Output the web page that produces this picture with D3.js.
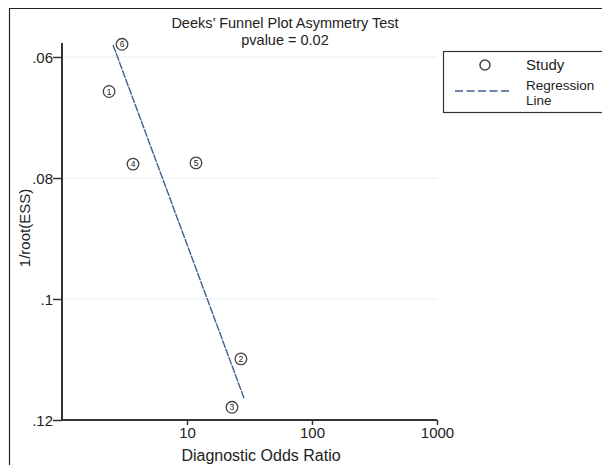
<!DOCTYPE html>
<html>
<head>
<meta charset="utf-8">
<script src="https://cdn.jsdelivr.net/npm/d3@7"></script>
<style>
  body { margin: 0; background: #fff; }
  svg text { font-family: "Liberation Sans", Arial, sans-serif; fill: #222; }
</style>
</head>
<body>
<svg id="chart" width="602" height="465"></svg>
<script>
// study points
var studyIds = ["1", "2", "3", "4", "5", "6"]
var studyDor = [2.38, 27.0, 22.9, 3.70, 11.8, 3.02]
var studyEss = [0.0657, 0.1099, 0.1179, 0.0777, 0.0775, 0.0579]

// regression line end points (DOR, 1/root(ESS))
var regDor = [2.56, 28.6]
var regEss = [0.0580, 0.1164]

var xTicks = [10, 100, 1000]
var yTicks = [0.06, 0.08, 0.1, 0.12]
var yTickLabels = [".06", ".08", ".1", ".12"]

var svg = d3.select("#chart")

// outer frame
svg.append("path")
    .attr("d", "M9.5,465 V8.5 H602")
    .attr("fill", "none")
    .attr("stroke", "#222")
    .attr("stroke-width", 1.2)

var x = d3.scaleLog().domain([1, 1000]).range([62, 437])
var y = d3.scaleLinear().domain([0.06, 0.12]).range([57, 420])

// grid lines
svg.append("g").selectAll("line")
    .data(yTicks.slice(0, 3))
    .enter().append("line")
    .attr("x1", 63).attr("x2", 437)
    .attr("y1", function(d) { return y(d) }).attr("y2", function(d) { return y(d) })
    .attr("stroke", "#e6f0f1")
    .attr("stroke-width", 1)

// y axis
var yAxis = svg.append("g")
    .attr("transform", "translate(62,0)")
    .call(d3.axisLeft(y).tickValues(yTicks).tickSize(9)
        .tickFormat(function(d, i) { return yTickLabels[i] }))
yAxis.select(".domain").attr("d", "M0," + 43 + "V" + y(0.12)).attr("stroke-width", 2).attr("stroke", "#333")
yAxis.selectAll(".tick line").attr("stroke", "#333").attr("stroke-width", 1.5)
yAxis.selectAll(".tick text").attr("font-size", 15).attr("x", -9).attr("dy", "0.36em")
    .attr("font-family", "Liberation Sans, Arial, sans-serif").attr("fill", "#222")

// x axis
var xAxis = svg.append("g")
    .attr("transform", "translate(0," + y(0.12) + ")")
    .call(d3.axisBottom(x).tickValues(xTicks).tickSize(5).tickFormat(d3.format("d")))
xAxis.select(".domain").attr("d", "M" + x(1) + ",0H" + x(1000)).attr("stroke-width", 2).attr("stroke", "#333")
xAxis.selectAll(".tick line").attr("stroke", "#333").attr("stroke-width", 1.5)
xAxis.selectAll(".tick text").attr("font-size", 15).attr("y", 7)
    .attr("font-family", "Liberation Sans, Arial, sans-serif").attr("fill", "#222")

// regression line
svg.append("line")
    .attr("x1", x(regDor[0])).attr("y1", y(regEss[0]))
    .attr("x2", x(regDor[1])).attr("y2", y(regEss[1]))
    .attr("stroke", "#41608f")
    .attr("stroke-width", 1.4)
    .attr("stroke-dasharray", "8,1")

// study markers
var pts = svg.append("g").selectAll("g")
    .data(studyIds)
    .enter().append("g")
    .attr("transform", function(d, i) {
        return "translate(" + x(studyDor[i]) + "," + y(studyEss[i]) + ")"
    })
pts.append("circle")
    .attr("r", 5.8)
    .attr("fill", "#fff")
    .attr("stroke", "#444")
    .attr("stroke-width", 1.3)
pts.append("text")
    .attr("text-anchor", "middle")
    .attr("dy", "0.36em")
    .attr("font-size", 8.5)
    .text(function(d) { return d })

// titles
svg.append("text").attr("x", 285).attr("y", 28).attr("text-anchor", "middle")
    .attr("font-size", 14.5).text("Deeks\u2019 Funnel Plot Asymmetry Test")
svg.append("text").attr("x", 285).attr("y", 45).attr("text-anchor", "middle")
    .attr("font-size", 14.5).text("pvalue = 0.02")

svg.append("text").attr("x", 261).attr("y", 461).attr("text-anchor", "middle")
    .attr("font-size", 16).text("Diagnostic Odds Ratio")
svg.append("text")
    .attr("transform", "translate(30,228) rotate(-90)")
    .attr("text-anchor", "middle")
    .attr("font-size", 15).text("1/root(ESS)")

// legend
var leg = svg.append("g")
leg.append("rect")
    .attr("x", 443.5).attr("y", 51.5).attr("width", 165).attr("height", 61)
    .attr("fill", "#fff").attr("stroke", "#333").attr("stroke-width", 1.2)
leg.append("circle").attr("cx", 485).attr("cy", 65).attr("r", 5)
    .attr("fill", "#fff").attr("stroke", "#444").attr("stroke-width", 1.5)
leg.append("text").attr("x", 526).attr("y", 70).attr("font-size", 15).text("Study")
leg.append("line").attr("x1", 455).attr("x2", 512).attr("y1", 91).attr("y2", 91)
    .attr("stroke", "#41608f").attr("stroke-width", 1.4).attr("stroke-dasharray", "8,3.5")
leg.append("text").attr("x", 526).attr("y", 90).attr("font-size", 13.5).text("Regression")
leg.append("text").attr("x", 526).attr("y", 104.5).attr("font-size", 13.5).text("Line")
</script>
</body>
</html>
